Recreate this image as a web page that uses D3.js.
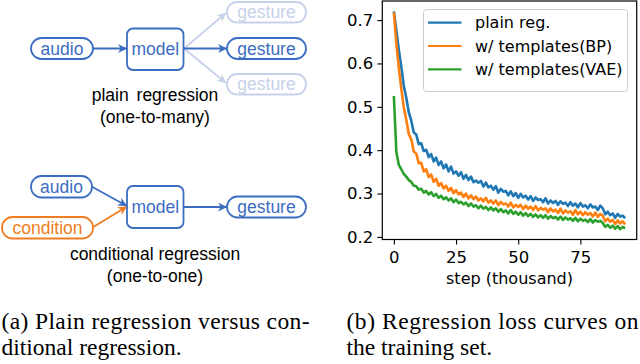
<!DOCTYPE html>
<html>
<head>
<meta charset="utf-8">
<script src="https://cdn.jsdelivr.net/npm/d3@7"></script>
<style>
  body { margin: 0; background: #fff; }
  svg { display: block; }
</style>
</head>
<body>
<div id="fig"></div>
<script>
// loss curves, one value per thousand steps
var steps = d3.range(0, 94);
var plainReg = [0.720,0.676,0.631,0.592,0.548,0.521,0.487,0.468,0.441,0.436,
  0.414,0.416,0.398,0.401,0.384,0.391,0.374,0.383,0.366,0.374,
  0.358,0.367,0.351,0.362,0.346,0.351,0.341,0.349,0.334,0.343,
  0.331,0.339,0.326,0.330,0.325,0.329,0.316,0.325,0.314,0.318,
  0.309,0.317,0.302,0.311,0.304,0.306,0.296,0.305,0.294,0.301,
  0.290,0.299,0.291,0.295,0.286,0.294,0.283,0.291,0.285,0.287,
  0.280,0.289,0.277,0.284,0.278,0.283,0.274,0.282,0.276,0.279,
  0.271,0.280,0.272,0.277,0.268,0.278,0.270,0.273,0.266,0.275,
  0.268,0.270,0.262,0.272,0.266,0.252,0.258,0.250,0.254,0.244,
  0.253,0.247,0.249,0.243];
var templBP = [0.718,0.646,0.589,0.541,0.498,0.470,0.437,0.425,0.397,0.392,
  0.370,0.371,0.351,0.356,0.338,0.344,0.327,0.334,0.318,0.324,
  0.312,0.318,0.306,0.313,0.301,0.308,0.298,0.302,0.292,0.300,
  0.289,0.296,0.287,0.293,0.284,0.289,0.282,0.290,0.279,0.284,
  0.277,0.284,0.273,0.281,0.275,0.277,0.270,0.279,0.268,0.274,
  0.269,0.274,0.264,0.272,0.265,0.270,0.262,0.271,0.261,0.267,
  0.263,0.266,0.257,0.266,0.259,0.263,0.255,0.265,0.254,0.261,
  0.256,0.259,0.251,0.262,0.252,0.258,0.250,0.257,0.251,0.255,
  0.247,0.256,0.246,0.253,0.249,0.236,0.242,0.235,0.239,0.230,
  0.238,0.231,0.236,0.229];
var templVAE = [0.525,0.396,0.366,0.356,0.345,0.339,0.331,0.327,0.318,0.317,
  0.309,0.311,0.302,0.306,0.298,0.303,0.294,0.299,0.290,0.295,
  0.287,0.291,0.284,0.289,0.280,0.286,0.278,0.281,0.275,0.279,
  0.271,0.277,0.270,0.273,0.266,0.272,0.265,0.269,0.262,0.268,
  0.261,0.266,0.258,0.264,0.257,0.261,0.254,0.262,0.253,0.258,
  0.251,0.257,0.249,0.255,0.248,0.253,0.246,0.252,0.245,0.250,
  0.244,0.250,0.242,0.248,0.243,0.246,0.240,0.247,0.239,0.245,
  0.240,0.243,0.237,0.244,0.236,0.242,0.237,0.240,0.234,0.241,
  0.233,0.239,0.235,0.237,0.232,0.223,0.228,0.221,0.226,0.219,
  0.225,0.218,0.223,0.220];
var seriesNames = ["plain reg.", "w/ templates(BP)", "w/ templates(VAE)"];
var xTicks = [0, 25, 50, 75];
var yTicks = [0.2, 0.3, 0.4, 0.5, 0.6, 0.7];
var xLabel = "step (thousand)";
var captionA = ["(a) Plain regression versus con-", "ditional regression."];
var captionB = ["(b) Regression loss curves on", "the training set."];

var colors = ["#1f77b4", "#ff7f0e", "#2ca02c"];
var blue = "#3b6dc1", lightBlue = "#c6d2ea", orange = "#ef7d22";

var svg = d3.select("#fig").append("svg")
    .attr("width", 640)
    .attr("height", 364);

// arrow heads
var defs = svg.append("defs");
[["arrBlue", blue], ["arrLight", lightBlue], ["arrOrange", orange]].forEach(function (m) {
    defs.append("marker")
        .attr("id", m[0])
        .attr("viewBox", "0 0 10 10")
        .attr("refX", 10).attr("refY", 5)
        .attr("markerWidth", 5).attr("markerHeight", 5)
        .attr("markerUnits", "strokeWidth")
        .attr("orient", "auto")
        .append("path")
        .attr("d", "M0,0 L10,5 L0,10 L3,5 Z")
        .style("fill", m[1]);
});

// ---------- left: diagram ----------
var diag = svg.append("g").style("font-family", "'Liberation Sans', Arial, sans-serif");

function node(x, y, w, h, rx, label, col) {
    diag.append("rect")
        .attr("x", x).attr("y", y).attr("width", w).attr("height", h)
        .attr("rx", rx)
        .style("fill", "#fff").style("stroke", col).style("stroke-width", 1.8);
    diag.append("text")
        .attr("x", x + w / 2).attr("y", y + h / 2)
        .attr("dy", "0.35em")
        .attr("text-anchor", "middle")
        .style("font-size", "17.5px")
        .style("fill", col)
        .text(label);
}
function arrow(x1, y1, x2, y2, col, id) {
    diag.append("line")
        .attr("x1", x1).attr("y1", y1).attr("x2", x2).attr("y2", y2)
        .style("stroke", col).style("stroke-width", 1.8)
        .attr("marker-end", "url(#" + id + ")");
}

// plain regression
arrow(184, 48.5, 226, 13, lightBlue, "arrLight");
arrow(184, 48.5, 226, 83, lightBlue, "arrLight");
arrow(93, 48.5, 127, 48.5, blue, "arrBlue");
arrow(184, 48.5, 227, 48.5, blue, "arrBlue");
node(31, 38, 62, 21, 10.5, "audio", blue);
node(127, 28.5, 56.5, 41.5, 6, "model", blue);
node(227, 2, 79, 20.5, 10, "gesture", lightBlue);
node(227, 38, 79, 21, 10.5, "gesture", blue);
node(227, 74, 79, 20.5, 10, "gesture", lightBlue);
diag.append("text").attr("x", 155).attr("y", 101).attr("text-anchor", "middle")
    .style("font-size", "17.5px").style("word-spacing", "3px").text("plain regression");
diag.append("text").attr("x", 155).attr("y", 123).attr("text-anchor", "middle")
    .style("font-size", "17.5px").text("(one-to-many)");

// conditional regression
arrow(91.5, 186.5, 127, 206, blue, "arrBlue");
arrow(92.5, 227.5, 127, 206.5, orange, "arrOrange");
arrow(184, 207, 227, 207, blue, "arrBlue");
node(31, 176, 61, 21.5, 10.5, "audio", blue);
node(2, 217, 91, 21.5, 10.5, "condition", orange);
node(127, 186, 56.5, 42, 6, "model", blue);
node(227, 196.5, 79, 21, 10.5, "gesture", blue);
diag.append("text").attr("x", 155).attr("y", 260).attr("text-anchor", "middle")
    .style("font-size", "17.5px").text("conditional regression");
diag.append("text").attr("x", 155).attr("y", 282).attr("text-anchor", "middle")
    .style("font-size", "17.5px").text("(one-to-one)");

// ---------- right: loss curves ----------
var plot = { left: 382.3, right: 636.7, top: 1, bottom: 239.5 };

var x = d3.scaleLinear().domain([-4.65, 97.65]).range([plot.left, plot.right]);
var y = d3.scaleLinear().domain([0.194, 0.744]).range([plot.bottom, plot.top]);

var chart = svg.append("g").style("font-family", "'DejaVu Sans', sans-serif");

var xAxis = chart.append("g")
    .attr("transform", "translate(0," + plot.bottom + ")")
    .call(d3.axisBottom(x).tickValues(xTicks).tickSize(5).tickPadding(7));
var yAxis = chart.append("g")
    .attr("transform", "translate(" + plot.left + ",0)")
    .call(d3.axisLeft(y).tickValues(yTicks).tickSize(5).tickPadding(4).tickFormat(d3.format(".1f")));
[xAxis, yAxis].forEach(function (a) {
    a.select(".domain").remove();
    a.selectAll("line").style("stroke", "#000").style("stroke-width", 1.1);
    a.selectAll("text").style("font-size", "16.5px").style("fill", "#000")
        .style("font-family", "'DejaVu Sans', sans-serif");
});

var line = d3.line()
    .x(function (d) { return x(d[0]); })
    .y(function (d) { return y(d[1]); });

[plainReg, templBP, templVAE].forEach(function (vals, i) {
    chart.append("path")
        .datum(steps.map(function (s, j) { return [s, vals[j]]; }))
        .attr("d", line)
        .style("fill", "none")
        .style("stroke", colors[i])
        .style("stroke-width", 2.6)
        .style("stroke-linejoin", "round");
});

chart.append("rect")
    .attr("x", plot.left).attr("y", plot.top)
    .attr("width", plot.right - plot.left).attr("height", plot.bottom - plot.top)
    .style("fill", "none").style("stroke", "#000").style("stroke-width", 1.2);

// legend
var legend = chart.append("g").attr("transform", "translate(423.5,9.5)");
legend.append("rect")
    .attr("width", 204).attr("height", 82).attr("rx", 3)
    .style("fill", "#fff").style("fill-opacity", 0.8)
    .style("stroke", "#ccc").style("stroke-width", 1);
seriesNames.forEach(function (name, i) {
    var ly = 13.2 + i * 23.3;
    legend.append("line")
        .attr("x1", 4.5).attr("x2", 38).attr("y1", ly).attr("y2", ly)
        .style("stroke", colors[i]).style("stroke-width", 2.2);
    legend.append("text")
        .attr("x", 51.5).attr("y", ly).attr("dy", "0.35em")
        .style("font-size", "16px").style("fill", "#000")
        .text(name);
});

chart.append("text")
    .attr("x", (plot.left + plot.right) / 2).attr("y", 284)
    .attr("text-anchor", "middle")
    .style("font-size", "16px")
    .text(xLabel);

// ---------- captions ----------
var cap = svg.append("g").style("font-family", "'Liberation Serif', 'Times New Roman', serif")
    .style("font-size", "23.5px").style("fill", "#000");
function caption(lines, x0, width) {
    cap.append("text").attr("x", x0).attr("y", 329)
        .attr("textLength", width).attr("lengthAdjust", "spacing")
        .text(lines[0]);
    cap.append("text").attr("x", x0).attr("y", 355).text(lines[1]);
}
caption(captionA, 1.5, 308);
caption(captionB, 346.5, 292);
</script>
</body>
</html>
